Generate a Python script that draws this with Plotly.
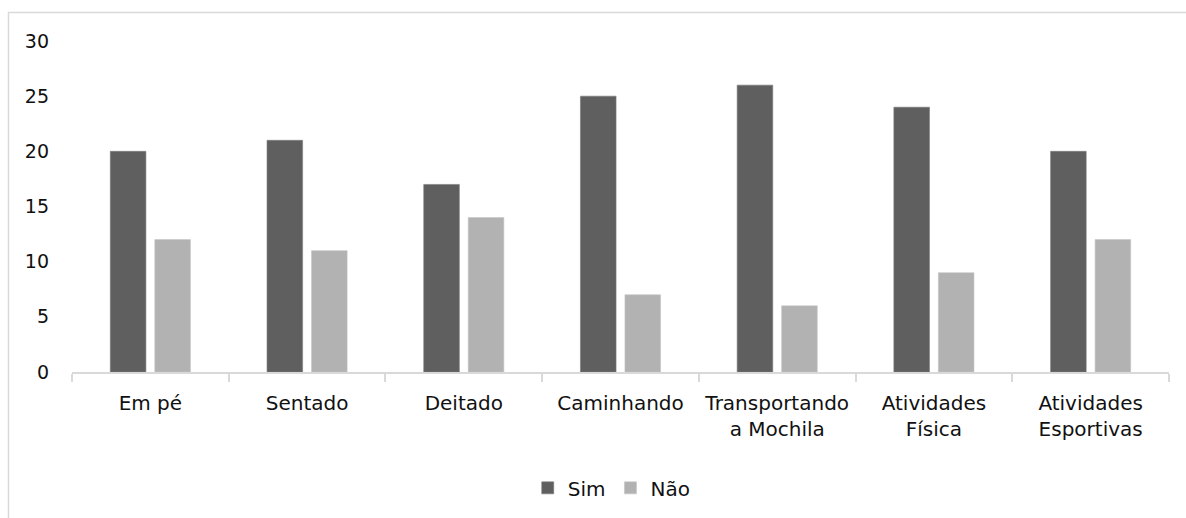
import plotly.graph_objects as go

# Posture / activity categories
categories = ["Em pé", "Sentado", "Deitado", "Caminhando",
              "Transportando<br>a Mochila", "Atividades<br>Física",
              "Atividades<br>Esportivas"]
sim_values = [20, 21, 17, 25, 26, 24, 20]
nao_values = [12, 11, 14, 7, 6, 9, 12]
y_ticks = [0, 5, 10, 15, 20, 25, 30]

FONT = "DejaVu Sans"
AXIS_GREY = "#d9d9d9"
TEXT = "#111111"

fig = go.Figure()
fig.add_trace(go.Bar(name="Sim", x=categories, y=sim_values,
                     marker=dict(color="#5f5f5f", line=dict(color="#7a7a7a", width=0.6))))
fig.add_trace(go.Bar(name="Não", x=categories, y=nao_values,
                     marker=dict(color="#b2b2b2", line=dict(color="#c4c4c4", width=0.6))))

# Outer chart frame (light grey border)
fig.add_shape(type="rect", xref="paper", yref="paper",
              x0=-0.0579, x1=1.2, y0=-0.7, y1=1.0858,
              line=dict(color=AXIS_GREY, width=1.5), fillcolor="rgba(0,0,0,0)",
              layer="below")

fig.update_layout(
    width=1186, height=518,
    margin=dict(l=72, r=17, t=41, b=145),
    paper_bgcolor="white", plot_bgcolor="white",
    barmode="group", bargap=0.432, bargroupgap=0.2,
    font=dict(family=FONT, size=19, color=TEXT),
    showlegend=True,
    legend=dict(orientation="h", x=0.492, xanchor="center",
                y=-0.346, yanchor="middle",
                font=dict(family=FONT, size=20, color=TEXT),
                itemwidth=30, tracegroupgap=0, itemclick=False),
    xaxis=dict(showline=True, linecolor=AXIS_GREY, linewidth=1.5,
               ticks="outside", tickson="boundaries", ticklen=8,
               tickcolor=AXIS_GREY, tickwidth=1.5,
               tickfont=dict(family=FONT, size=20, color=TEXT),
               ticklabelstandoff=12,
               showgrid=False, zeroline=False, fixedrange=True),
    yaxis=dict(range=[0, 30], tickvals=y_ticks, showline=False,
               showgrid=False, zeroline=False, ticks="",
               tickfont=dict(family=FONT, size=19, color=TEXT),
               ticklabelstandoff=22, fixedrange=True),
)

fig.write_html("out.html")
